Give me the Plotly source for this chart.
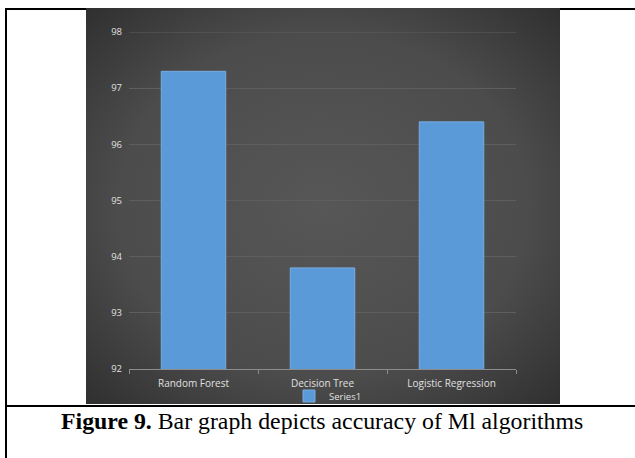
import base64
import plotly.graph_objects as go

categories = ["Random Forest", "Decision Tree", "Logistic Regression"]
accuracy = [97.3, 93.8, 96.4]
series_name = "Series1"
y_ticks = [92, 93, 94, 95, 96, 97, 98]
caption_bold = "Figure 9."
caption_rest = " Bar graph depicts accuracy of Ml algorithms"

W, H = 635, 458
L, R, T, B = 129, 516, 32, 369  # plot area pixels
GRID = "#5e5e5e"


def px_x(x):
    return (x - L) / (R - L)


def px_y(y):
    return (B - y) / (B - T)


svg = (
    '<svg xmlns="http://www.w3.org/2000/svg" width="474" height="396" viewBox="0 0 100 100" preserveAspectRatio="none">'
    '<defs><radialGradient id="g" cx="0.5" cy="0.5" r="0.72">'
    '<stop offset="0" stop-color="#575757"/>'
    '<stop offset="0.6" stop-color="#4c4c4c"/>'
    '<stop offset="1" stop-color="#2e2e2e"/>'
    '</radialGradient></defs>'
    '<rect x="0" y="0" width="100" height="100" fill="url(#g)"/></svg>'
)
src = "data:image/svg+xml;base64," + base64.b64encode(svg.encode()).decode()

fig = go.Figure()
fig.add_trace(go.Bar(
    x=categories, y=accuracy, name=series_name,
    marker=dict(color="#5b9ad8", line=dict(color="#78ace0", width=1)),
    width=0.5, showlegend=True,
))

fig.update_layout(
    width=W, height=H,
    margin=dict(l=L, r=W - R, t=T, b=H - B, pad=0),
    paper_bgcolor="white",
    plot_bgcolor="rgba(0,0,0,0)",
    font=dict(family="Open Sans, Liberation Sans, sans-serif", size=9, color="#e0e0e0"),
    yaxis=dict(
        range=[y_ticks[0], y_ticks[-1]], tickvals=y_ticks, showgrid=True, gridcolor=GRID, gridwidth=1,
        zeroline=False, showline=False, ticks="", ticklabelstandoff=6,
        tickfont=dict(size=9.5, color="#e0e0e0"),
    ),
    xaxis=dict(
        showline=True, linecolor="#8c8c8c", linewidth=1, ticks="outside", tickson="boundaries",
        ticklen=4, tickcolor="#8c8c8c", tickfont=dict(size=10, color="#e0e0e0"),
        ticklabelstandoff=5, showgrid=False,
    ),
    legend=dict(
        orientation="h", x=px_x(328), y=px_y(396), xanchor="center", yanchor="middle",
        font=dict(size=9.5, color="#e0e0e0"), bgcolor="rgba(0,0,0,0)", itemwidth=30,
    ),
    images=[dict(
        source=src, xref="paper", yref="paper",
        x=px_x(86), y=px_y(8), sizex=px_x(560) - px_x(86), sizey=px_y(8) - px_y(404),
        xanchor="left", yanchor="top", sizing="stretch", layer="below",
    )],
    shapes=[
        dict(type="line", xref="paper", yref="y", x0=0, x1=1, y0=y_ticks[-1], y1=y_ticks[-1],
             line=dict(color=GRID, width=1), layer="below"),
        dict(type="line", xref="paper", yref="paper", x0=px_x(6), x1=px_x(6), y0=px_y(8), y1=px_y(458),
             line=dict(color="black", width=2)),
        dict(type="line", xref="paper", yref="paper", x0=px_x(5), x1=px_x(86), y0=px_y(9), y1=px_y(9),
             line=dict(color="black", width=2)),
        dict(type="line", xref="paper", yref="paper", x0=px_x(560), x1=px_x(635), y0=px_y(9), y1=px_y(9),
             line=dict(color="black", width=2)),
        dict(type="line", xref="paper", yref="paper", x0=px_x(5), x1=px_x(635), y0=px_y(406), y1=px_y(406),
             line=dict(color="black", width=2)),
    ],
    annotations=[dict(
        text="<b>" + caption_bold + "</b>" + caption_rest,
        xref="paper", yref="paper", x=px_x(322), y=px_y(421), xanchor="center", yanchor="middle",
        showarrow=False, font=dict(family="Liberation Serif, Times New Roman, serif", size=23.8, color="black"),
    )],
)

fig.write_html("out.html")
